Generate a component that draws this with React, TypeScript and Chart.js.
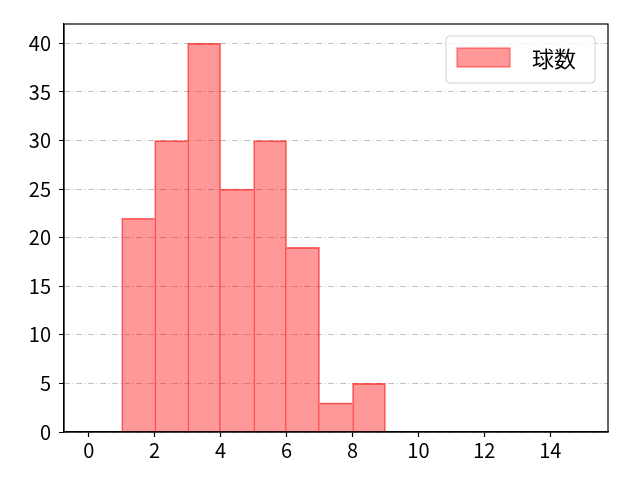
import React, { useEffect, useRef } from "react";
import { Chart, registerables } from "chart.js";

Chart.register(...registerables);

// histogram bins: [binStart, binEnd) and counts
const binStarts = [1, 2, 3, 4, 5, 6, 7, 8];
const counts = [22, 30, 40, 25, 30, 19, 3, 5];
const seriesLabel = "球数";
const xTicks = [0, 2, 4, 6, 8, 10, 12, 14];
const yTicks = [0, 5, 10, 15, 20, 25, 30, 35, 40];

const FONT = "'Noto Sans CJK JP', 'DejaVu Sans', sans-serif";
const FILL = "rgba(255, 0, 0, 0.4)";
const EDGE = "rgba(255, 0, 0, 0.6)";

// legend drawn inside the plot area, top right, matplotlib style
const insideLegend = {
  id: "insideLegend",
  afterDraw(chart: Chart) {
    const { ctx, chartArea } = chart;
    const w = 149;
    const h = 47;
    const x = chartArea.right - w - 13;
    const y = chartArea.top + 12;
    ctx.save();
    ctx.beginPath();
    ctx.roundRect(x, y, w, h, 4);
    ctx.fillStyle = "rgba(255,255,255,0.8)";
    ctx.fill();
    ctx.strokeStyle = "#d0d0d0";
    ctx.lineWidth = 1;
    ctx.stroke();
    ctx.fillStyle = FILL;
    ctx.fillRect(x + 11, y + 12, 53, 19);
    ctx.strokeStyle = EDGE;
    ctx.strokeRect(x + 11, y + 12, 53, 19);
    ctx.fillStyle = "#000";
    ctx.font = `22px ${FONT}`;
    ctx.textBaseline = "middle";
    ctx.fillText(seriesLabel, x + 86, y + 23);
    ctx.restore();
  },
};

// draw each shared bin boundary once, on the taller neighbour
const last = counts.length - 1;
const edgeWidths = counts.map((c, i) => ({
  top: 1,
  bottom: 0,
  left: i === 0 || counts[i - 1] < c ? 1 : 0,
  right: i === last || counts[i + 1] <= c ? 1 : 0,
}));

function App(): JSX.Element {
  const chartRef = useRef<HTMLCanvasElement>(null);
  const chartInstance = useRef<Chart | null>(null);

  useEffect(() => {
    document.body.style.margin = "0";
    const ctx = chartRef.current?.getContext("2d");
    if (!ctx) return;
    if (chartInstance.current) chartInstance.current.destroy();

    chartInstance.current = new Chart(ctx, {
      type: "bar",
      data: {
        datasets: [
          {
            label: seriesLabel,
            data: binStarts.map((s, i) => ({ x: s + 0.5, y: counts[i] })),
            backgroundColor: FILL,
            borderColor: EDGE,
            borderWidth: (c: any) => edgeWidths[c.dataIndex] ?? 1,
            borderSkipped: false,
            barPercentage: 1,
            categoryPercentage: 1,
          },
        ],
      },
      options: {
        animation: false,
        responsive: false,
        layout: { padding: { left: 0, right: 32, top: 24, bottom: 0 } },
        plugins: { legend: { display: false }, tooltip: { enabled: false } },
        scales: {
          x: {
            type: "linear",
            offset: false,
            min: -0.75,
            max: 15.75,
            afterBuildTicks: (axis) => {
              axis.ticks = xTicks.map((v) => ({ value: v }));
            },
            afterFit: (axis) => {
              axis.height = 48;
            },
            ticks: {
              color: "#000",
              font: { family: FONT, size: 20 },
              padding: 1,
              maxRotation: 0,
            },
            grid: {
              offset: false,
              drawOnChartArea: false,
              tickLength: 5,
              tickColor: "#000",
              tickWidth: 1.2,
            },
            border: { color: "#000", width: 1.2 },
          },
          y: {
            min: 0,
            max: 42,
            afterBuildTicks: (axis) => {
              axis.ticks = yTicks.map((v) => ({ value: v }));
            },
            afterFit: (axis) => {
              axis.width = 64;
            },
            ticks: {
              color: "#000",
              font: { family: FONT, size: 20 },
              padding: 8,
            },
            grid: {
              color: "#b0b0b0",
              lineWidth: 0.8,
              tickLength: 5,
              tickColor: "#000",
              tickWidth: 1.2,
              tickBorderDash: [1, 0],
            },
            border: { color: "#000", width: 1.2, dash: [6, 2.5, 1, 2.5] },
          },
        },
      },
      plugins: [
        insideLegend,
        {
          id: "frame",
          afterDraw(chart: Chart) {
            const { ctx: c, chartArea } = chart;
            c.save();
            c.strokeStyle = "#000";
            c.lineWidth = 1.2;
            c.strokeRect(
              chartArea.left,
              chartArea.top,
              chartArea.right - chartArea.left,
              chartArea.bottom - chartArea.top
            );
            c.restore();
          },
        },
      ],
    });

    return () => {
      if (chartInstance.current) {
        chartInstance.current.destroy();
        chartInstance.current = null;
      }
    };
  }, []);

  return (
    <div style={{ width: 640, height: 480, background: "#fff" }}>
      <canvas ref={chartRef} width={640} height={480}></canvas>
    </div>
  );
}

export default App;
